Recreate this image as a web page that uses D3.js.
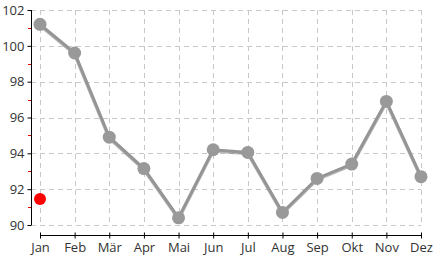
<!DOCTYPE html>
<html>
<head>
<meta charset="utf-8">
<script src="https://d3js.org/d3.v7.min.js"></script>
<style>
body { margin: 0; background: #fff; }
text { font-family: "Open Sans", sans-serif; }
</style>
</head>
<body>
<script>
var months = ["Jan", "Feb", "Mär", "Apr", "Mai", "Jun", "Jul", "Aug", "Sep", "Okt", "Nov", "Dez"];
var values = [101.2, 99.6, 94.9, 93.15, 90.4, 94.2, 94.05, 90.7, 92.6, 93.4, 96.9, 92.7];
var highlight = { month: "Jan", value: 91.45 };
var yTicks = [90, 92, 94, 96, 98, 100, 102];
var yMinor = [91, 93, 95, 97, 99, 101];

var width = 434, height = 260;

var svg = d3.select("body").append("svg")
    .attr("width", width)
    .attr("height", height);

var x = d3.scalePoint().domain(months).range([40, 421]);
var y = d3.scaleLinear().domain([90, 102]).range([225, 10]);

// grid
var grid = svg.append("g")
    .attr("stroke", "#c8c8c8")
    .attr("stroke-dasharray", "5,4")
    .attr("stroke-width", 1);
grid.selectAll(".hg").data(yTicks).enter().append("line")
    .attr("x1", 31).attr("x2", 421)
    .attr("y1", function(d) { return Math.round(y(d)) + 0.5; })
    .attr("y2", function(d) { return Math.round(y(d)) + 0.5; });
grid.selectAll(".vg").data(months).enter().append("line")
    .attr("x1", function(d) { return Math.round(x(d)) + 0.5; })
    .attr("x2", function(d) { return Math.round(x(d)) + 0.5; })
    .attr("y1", 10).attr("y2", 225);

// y axis
var yAxis = svg.append("g")
    .attr("transform", "translate(31.5,0)")
    .call(d3.axisLeft(y).tickValues(yTicks).tickSize(4).tickPadding(3));
yAxis.select(".domain").attr("d", "M0," + y(102) + "V" + y(90));
yAxis.selectAll("text").attr("font-size", 13).attr("fill", "#333").attr("font-family", "Open Sans");

// red minor ticks
svg.append("g").selectAll("line").data(yMinor).enter().append("line")
    .attr("x1", 28).attr("x2", 31)
    .attr("y1", function(d) { return Math.round(y(d)) + 0.5; })
    .attr("y2", function(d) { return Math.round(y(d)) + 0.5; })
    .attr("stroke", "#d00");

// x axis
var xAxis = svg.append("g")
    .attr("transform", "translate(0,235.5)")
    .call(d3.axisBottom(x).tickSize(3).tickPadding(4));
xAxis.select(".domain").attr("d", "M" + x("Jan") + ",0H" + x("Dez"));
xAxis.selectAll(".tick line").attr("y1", -3);
xAxis.selectAll("text").attr("font-size", 13).attr("fill", "#333").attr("font-family", "Open Sans");

// line
var line = d3.line()
    .x(function(d, i) { return x(months[i]); })
    .y(function(d) { return y(d); });

svg.append("path")
    .datum(values)
    .attr("d", line)
    .attr("fill", "none")
    .attr("stroke", "#777")
    .attr("stroke-width", 3.5)
    .attr("transform", "translate(0,1)")
    .attr("opacity", 0.5);
svg.append("path")
    .datum(values)
    .attr("d", line)
    .attr("fill", "none")
    .attr("stroke", "#959595")
    .attr("stroke-width", 3);

svg.append("g").selectAll("circle").data(values).enter().append("circle")
    .attr("cx", function(d, i) { return x(months[i]); })
    .attr("cy", function(d) { return y(d); })
    .attr("r", 6.5)
    .attr("fill", "#999");

svg.append("circle")
    .attr("cx", x(highlight.month))
    .attr("cy", y(highlight.value))
    .attr("r", 6)
    .attr("fill", "#f00");
</script>
</body>
</html>
